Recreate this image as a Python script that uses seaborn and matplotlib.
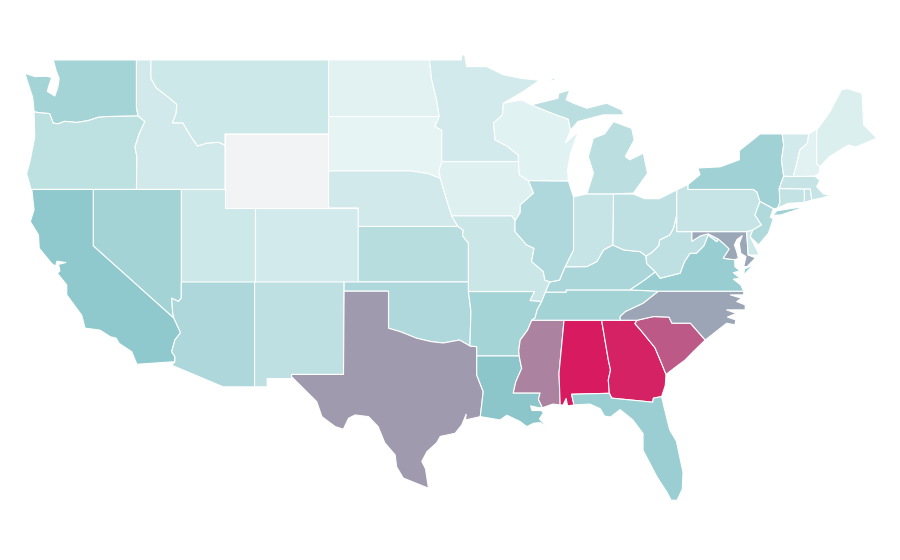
import matplotlib
matplotlib.use("Agg")
import matplotlib.pyplot as plt
import seaborn as sns

# Choropleth index per state (0 = palest, 50 = teal, 100 = crimson); Wyoming has no value
STATE_VALUES = {
    "WA": 36, "OR": 23, "CA": 48, "NV": 37, "ID": 12, "MT": 14, "WY": None, "UT": 14, "CO": 11,
    "AZ": 32, "NM": 22, "ND": 2, "SD": 0, "NE": 12, "KS": 26, "OK": 31, "TX": 63, "MN": 11,
    "IA": 4, "MO": 16, "AR": 36, "LA": 50, "WI": 3, "IL": 31, "IN": 18, "OH": 22, "MI": 24,
    "KY": 33, "TN": 37, "MS": 70, "AL": 100, "GA": 98, "SC": 82, "NC": 60, "VA": 43, "WV": 22,
    "MD": 59, "DE": 14, "PA": 18, "NY": 39, "NJ": 30, "CT": 20, "RI": 20, "MA": 18, "VT": 11,
    "NH": 2, "ME": 6, "FL": 42,
}
SCALE_COLORS = ["#e6f4f4", "#8cc7cb", "#d81b60"]
NO_DATA_COLOR = "#f2f3f5"

# Shared borders, as (lon, lat)
COLUMBIA = [(-117.03, 46.42), (-116.92, 45.97), (-118.97, 45.94), (-119.6, 45.9), (-120.3, 45.72), (-121.07, 45.62),
            (-121.9, 45.68), (-122.3, 45.55), (-122.65, 45.58), (-122.9, 46.1), (-123.65, 46.15), (-123.95, 46.2)]
SNAKE = [(-117.03, 42), (-117.0, 43.77), (-117.13, 44.3), (-116.85, 45.0), (-116.46, 45.67), (-116.92, 45.97)]
ID_MT = [(-116.05, 49), (-116.05, 48), (-115.7, 47.5), (-114.9, 47.0), (-114.3, 46.6), (-114.35, 46.1), (-114.6, 45.6),
         (-113.9, 45.6), (-113.3, 44.8), (-112.9, 44.35), (-112.3, 44.5), (-111.5, 44.55), (-111.05, 44.4)]
COLORADO_R = [(-114, 36.12), (-114.2, 35.95), (-114.65, 36.12), (-114.58, 35.3), (-114.5, 35.04), (-114.05, 34.26),
              (-114.43, 33.86), (-114.65, 33.23), (-114.43, 32.96), (-114.43, 32.69)]
RED_RIVER_N = [(-97.23, 49), (-97.1, 48), (-96.75, 46.84), (-96.57, 45.94), (-96.86, 45.4), (-96.4, 45.2), (-96.4, 43.5)]
BIG_SIOUX = [(-96.4, 43.5), (-96.6, 43.0), (-96.5, 42.6)]
MISSOURI_R = [(-96.5, 42.6), (-96.07, 41.43), (-95.73, 40.57)]
KS_MO = [(-95.31, 40), (-94.95, 39.8), (-95.0, 39.5), (-94.6, 39.1), (-94.6, 37)]
RED_RIVER_S = [(-100, 34.5), (-99.2, 34.31), (-98.1, 33.96), (-97.1, 33.77), (-96.3, 33.7), (-95.2, 33.86), (-94.5, 33.54)]
MN_WI = [(-92.24, 46.66), (-92.3, 46.03), (-92.9, 45.58), (-92.8, 44.68), (-92.0, 44.35), (-91.23, 43.86), (-91.22, 43.5)]
IA_WI = [(-91.22, 43.5), (-91.16, 42.78), (-90.55, 42.48)]
IA_IL = [(-90.55, 42.48), (-90.2, 41.8), (-91.1, 41.16), (-91.1, 40.75), (-91.45, 40.3)]
MO_IL = [(-91.45, 40.3), (-91.45, 39.72), (-90.66, 39), (-90.17, 38.82), (-90.33, 38.1), (-89.54, 37.56), (-89.43, 37.1), (-89.1, 37)]
AR_TN = [(-89.65, 35.94), (-89.95, 35.5), (-90.1, 35.05), (-90.32, 34.93)]
AR_MS = [(-90.32, 34.93), (-90.6, 34.4), (-91.1, 33.86), (-91.2, 33.3), (-91.17, 33)]
LA_MS = [(-91.17, 33), (-91.05, 32.5), (-91.0, 32.33), (-91.4, 31.6), (-91.57, 31), (-89.76, 31), (-89.87, 30.65), (-89.6, 30.2)]
OH_WV = [(-80.52, 40.64), (-80.75, 39.9), (-81, 39.54), (-81.68, 39.27), (-81.75, 38.95), (-82.2, 38.6), (-82.6, 38.4)]
OH_KY = [(-82.6, 38.4), (-83, 38.64), (-84.1, 38.73), (-84.85, 39.0)]
IN_KY = [(-84.85, 39.0), (-85.47, 38.73), (-85.93, 38.1), (-86.6, 37.83), (-88.07, 37.82)]
IL_KY = [(-88.07, 37.82), (-88.45, 37.1), (-89.1, 37)]
WABASH = [(-88.07, 37.82), (-87.5, 38.73), (-87.5, 41.6)]
KY_WV = [(-82.6, 38.4), (-82.56, 38.0), (-81.97, 37.54)]
VA_WV = [(-81.97, 37.54), (-81.65, 37.2), (-80.9, 37.35), (-80.3, 37.47), (-80.0, 38.1), (-79.63, 38.55), (-79.2, 38.55),
         (-78.7, 38.95), (-78.4, 39.54), (-77.82, 39.18), (-77.72, 39.32)]
MD_WV = [(-77.72, 39.32), (-78.4, 39.6), (-78.9, 39.5), (-79.5, 39.2), (-79.5, 39.72)]
MD_VA = [(-77.72, 39.32), (-77.26, 39), (-76.98, 38.78), (-77.38, 38.28), (-76.6, 38.2)]
AL_GA = [(-85.6, 34.93), (-85.15, 32.8), (-85, 32.24), (-85.15, 31.7), (-85.08, 30.98)]
SAVANNAH = [(-83.2, 34.93), (-83.35, 34.75), (-82.97, 34.4), (-82.0, 33.45), (-81.55, 32.6), (-81.25, 32.0)]
NC_SC = [(-83.2, 34.93), (-82.1, 35.13), (-81.05, 35.1), (-80.85, 34.77), (-79.6, 34.77), (-78.6, 33.86)]
NC_TN = [(-84.36, 34.93), (-84.36, 35.13), (-84, 35.4), (-82.8, 35.85), (-81.77, 36.5)]
PA_NJ = [(-74.9, 41.35), (-75.24, 40.62), (-74.8, 40.08), (-75.4, 39.8)]
PA_NY = [(-75.35, 42), (-75.1, 41.85), (-74.9, 41.35)]
VT_NH = [(-71.6, 45), (-71.7, 44.5), (-72.2, 44.14), (-72.45, 43.3), (-72.65, 42.7)]
VT_NY = [(-73.4, 45), (-73.3, 44.4), (-73.45, 43.6), (-73.3, 42.72)]
MI_WI = [(-90.35, 46.57), (-88.9, 46.1), (-87.85, 45.8), (-87.7, 45.2)]


def rev(seg):
    return seg[::-1]


SHAPES = {
    "WA": [[(-124.57, 48.28), (-123.9, 48.1), (-123.1, 48.12), (-122.75, 48.05), (-122.95, 47.6), (-123.05, 47.3), (-122.55, 47.05),
            (-122.35, 47.5), (-122.25, 48.0), (-122.45, 48.4), (-122.65, 49), (-117.03, 49)] + COLUMBIA +
           [(-124.0, 46.7), (-124.05, 47.0), (-124.3, 47.6)]],
    "OR": [[(-123.95, 46.2), (-123.9, 44.85), (-124.2, 43.6), (-124.45, 42.85), (-124.15, 42)] + SNAKE + COLUMBIA[2:]],
    "ID": [[(-117.03, 49)] + ID_MT + [(-111.05, 42)] + SNAKE + [(-117.03, 46.42)]],
    "MT": [ID_MT + [(-111.05, 45), (-104.05, 45), (-104.05, 49)]],
    "WY": [[(-111.05, 45), (-104.05, 45), (-104.05, 41), (-111.05, 41)]],
    "UT": [[(-114, 42), (-111.05, 42), (-111.05, 41), (-109.05, 41), (-109.05, 37), (-114, 37)]],
    "NV": [[(-119.95, 42), (-114, 42), (-114, 37)] + COLORADO_R[:5] + [(-119.95, 38.95)]],
    "CA": [[(-124.1, 42), (-119.95, 42), (-119.95, 38.95)] + COLORADO_R[4:] +
           [(-117.0, 32.55), (-117.35, 33.23), (-118.2, 33.68), (-118.4, 33.96), (-118.8, 34.04), (-119.5, 34.4), (-120.5, 34.5),
            (-120.73, 35.2), (-121.74, 36.3), (-121.74, 36.84), (-122.38, 37.47), (-122.2, 37.6), (-122.3, 37.95), (-121.8, 38.05),
            (-122.4, 38.12), (-122.5, 37.85), (-122.76, 38.0), (-123.6, 38.82), (-123.65, 39.54), (-124.2, 40.26), (-123.95, 40.9)]],
    "AZ": [[(-114, 37), (-109.05, 37), (-109.05, 31.33), (-111.17, 31.33), (-114.65, 32.5)] + rev(COLORADO_R)],
    "CO": [[(-109.05, 41), (-102.05, 41), (-102.05, 37), (-109.05, 37)]],
    "NM": [[(-109.05, 37), (-103, 37), (-103.04, 32), (-106.55, 32), (-106.53, 31.78), (-108.2, 31.78), (-108.2, 31.33), (-109.05, 31.33)]],
    "ND": [[(-104.05, 49)] + RED_RIVER_N[:4] + [(-104.05, 45.94)]],
    "SD": [[(-104.05, 45.94)] + RED_RIVER_N[3:] + BIG_SIOUX[1:] + [(-97.3, 42.85), (-98.5, 43), (-104.05, 43)]],
    "NE": [[(-104.05, 43), (-98.5, 43), (-97.3, 42.85)] + MISSOURI_R + KS_MO[:1] + [(-102.05, 40), (-102.05, 41), (-104.05, 41)]],
    "KS": [[(-102.05, 40)] + KS_MO + [(-102.05, 37)]],
    "OK": [[(-103, 37), (-94.6, 37), (-94.6, 36.48), (-94.43, 35.4)] + rev(RED_RIVER_S) + [(-100, 36.5), (-103, 36.5)]],
    "TX": [[(-103, 36.5), (-100, 36.5)] + RED_RIVER_S +
           [(-94.04, 33.5), (-94.04, 33), (-94.04, 31.97), (-93.6, 31.07), (-93.8, 29.72), (-94.8, 29.54), (-94.75, 29.85), (-95.05, 29.27),
            (-95.5, 28.82), (-96.5, 28.65), (-96.75, 28.3), (-97.4, 27.83), (-97.75, 27.3), (-97.5, 26.9), (-97.3, 25.85), (-99.0, 26.4),
            (-99.45, 27.0), (-99.55, 27.65), (-100.25, 28.3), (-100.7, 29.18), (-101.35, 29.72), (-102.26, 29.81), (-102.7, 29.63),
            (-103.05, 29.04), (-103.6, 29.18), (-104.5, 29.72), (-104.85, 30.53), (-105.87, 31.34), (-106.55, 31.88), (-106.55, 32), (-103.04, 32)]],
    "MN": [[(-97.23, 49), (-95.07, 49), (-95.07, 49.27), (-94.85, 49.27), (-94.72, 48.64), (-93.37, 48.64), (-92.24, 48.2), (-91, 48),
            (-89.8, 47.9), (-90.9, 47.29)] + MN_WI + rev(RED_RIVER_N)],
    "IA": [[(-96.4, 43.5)] + IA_WI + IA_IL[1:] + [(-91.67, 40.57)] + rev(MISSOURI_R) + [(-96.6, 43.0)]],
    "MO": [[(-95.73, 40.57), (-91.67, 40.57)] + MO_IL + [(-89.4, 36.45), (-89.65, 35.94), (-90.44, 35.99), (-90.15, 36.48), (-94.6, 36.48)] + rev(KS_MO)],
    "AR": [[(-94.6, 36.48), (-90.15, 36.48), (-90.44, 35.99)] + AR_TN + AR_MS[1:] + [(-94.04, 33), (-94.04, 33.5), (-94.5, 33.54), (-94.43, 35.4)]],
    "LA": [[(-94.04, 33)] + LA_MS + [(-89.85, 30.2), (-90.4, 30.3), (-90.3, 30.05), (-89.65, 30.05), (-89.55, 29.9), (-89.8, 29.6), (-89.2, 29.1),
            (-89.75, 29.4), (-90.2, 29.36), (-90.66, 29.18), (-91.1, 29.45), (-92.0, 29.8), (-92.46, 29.54), (-93.8, 29.72), (-93.6, 31.07), (-94.04, 31.97)]],
    "MS": [AR_MS + LA_MS[1:] + [(-88.9, 30.4), (-88.4, 30.35), (-88.48, 32.06), (-88.14, 34.93)]],
    "AL": [[(-88.14, 34.93)] + AL_GA + [(-87.63, 30.93), (-87.47, 30.35), (-87.9, 30.3), (-88, 30.7), (-88.2, 30.35), (-88.4, 30.35), (-88.48, 32.06)]],
    "GA": [AL_GA + [(-84.92, 30.72), (-82.15, 30.5), (-82.1, 30.72), (-81.55, 30.8), (-81.3, 31.4)] + rev(SAVANNAH)],
    "FL": [[(-87.63, 30.93), (-85.08, 30.98), (-84.92, 30.72), (-82.15, 30.5), (-82.1, 30.72), (-81.55, 30.8), (-81.25, 29.8), (-81, 29), (-80.55, 28.4),
            (-80.1, 26.7), (-80.15, 25.8), (-80.5, 25.2), (-80.9, 25.2), (-81.2, 25.65), (-81.85, 26.45), (-82.8, 27.9), (-82.8, 28.8), (-83.5, 29.55),
            (-84.35, 30.1), (-85, 29.7), (-85.4, 29.75), (-85.7, 30.15), (-86.4, 30.4), (-87.47, 30.35)]],
    "SC": [NC_SC + [(-79.4, 33.24), (-79.96, 32.78), (-80.6, 32.4)] + rev(SAVANNAH)[:-1]],
    "NC": [[(-84.36, 34.93)] + NC_SC + [(-77.15, 34.77), (-76.6, 34.68), (-76.53, 34.95), (-77.1, 35.1), (-76.5, 35.3), (-77.15, 35.49), (-75.9, 35.49),
            (-75.9, 35.76), (-76.47, 35.94), (-76.14, 36.12), (-76.9, 36.3), (-76.0, 36.3), (-76.0, 36.5)] + rev(NC_TN)[:-1]],
    "TN": [[(-90.32, 34.93), (-88.14, 34.93), (-85.6, 34.93)] + NC_TN + [(-83.68, 36.57), (-88, 36.57), (-88, 36.45), (-89.4, 36.45)] + AR_TN[:3]],
    "KY": [[(-89.4, 36.45), (-88, 36.45), (-88, 36.57), (-83.68, 36.57), (-82.7, 37.1)] + rev(KY_WV) + OH_KY[1:] + IN_KY[1:] + IL_KY[1:]],
    "VA": [[(-83.68, 36.57), (-81.77, 36.5), (-76.0, 36.5), (-76.2, 36.84), (-76.7, 37.15), (-76.25, 37.2), (-76.7, 37.5), (-76.25, 37.6), (-76.6, 37.83)] +
           rev(MD_VA) + rev(VA_WV)[1:] + [(-82.7, 37.1)],
           [(-75.6, 37.83), (-75.25, 38.0), (-76, 37.38), (-75.95, 37.7)]],
    "WV": [[(-80.52, 40.64), (-80.52, 39.72)] + rev(MD_WV) + rev(VA_WV)[1:] + [(-82.56, 38.0)] + rev(OH_WV)[:-1]],
    "MD": [[(-79.5, 39.72), (-75.8, 39.72), (-75.7, 38.46), (-75.2, 38.3), (-75.77, 37.83), (-76, 37.83), (-75.85, 38.37), (-76.2, 38.55), (-76.3, 39.08),
            (-76.1, 39.5), (-76.45, 39.3), (-76.63, 39.0), (-76.47, 38.64), (-76.36, 38.28)] + rev(MD_VA) + MD_WV[1:]],
    "OH": [[(-84.8, 41.76), (-83.45, 41.75), (-82.7, 41.5), (-81.7, 41.5), (-80.52, 41.98)] + OH_WV + OH_KY[1:]],
    "IN": [[(-87.5, 41.6), (-86.6, 41.76), (-84.8, 41.76)] + IN_KY + WABASH[1:2]],
    "IL": [[(-90.55, 42.48), (-87.85, 42.46), (-87.6, 41.85)] + rev(WABASH) + IL_KY[1:] + rev(MO_IL)[1:] + rev(IA_IL)[1:-1]],
    "WI": [[(-92.24, 46.66), (-91, 46.84)] + MI_WI + [(-88.04, 44.53), (-87.17, 45.13), (-87.7, 43.96), (-87.9, 43.05), (-87.85, 42.46)] +
           rev(IA_WI) + rev(MN_WI)[1:-1]],
    "MI": [MI_WI + [(-87.2, 45.67), (-85.5, 46.03), (-84.1, 46.03), (-84.25, 46.3), (-85.26, 46.66), (-86.6, 46.39), (-87.5, 46.66), (-88.0, 46.85),
            (-87.75, 47.38), (-88.5, 47.2), (-88.55, 46.93)],
           [(-86.6, 41.76), (-84.8, 41.76), (-83.45, 41.8), (-82.5, 42.87), (-82.78, 43.96), (-83.7, 43.6), (-84.0, 43.78), (-83.4, 44.68), (-83.57, 45.3),
            (-84.8, 45.67), (-85.4, 45.0), (-86.16, 44.77), (-86.5, 43.77), (-86.15, 42.88)],
           [(-89.2, 47.9), (-88.7, 48.05), (-88.8, 47.9)]],
    "PA": [[(-80.52, 41.98), (-79.76, 42.27), (-79.76, 42)] + PA_NY + PA_NJ[1:] + [(-75.8, 39.72), (-80.52, 39.72), (-80.52, 40.64)]],
    "NY": [[(-79.76, 42.27), (-78.95, 42.8), (-79.1, 43.16), (-77.6, 43.22), (-76.3, 43.6), (-76.3, 44.1), (-75.2, 44.8), (-74.9, 45)] + VT_NY +
           [(-73.6, 42.05), (-73.55, 41.3), (-73.7, 41.0), (-73.95, 40.95)] + rev(PA_NY) + [(-79.76, 42)],
           [(-74.05, 40.6), (-73.75, 40.85), (-72.3, 41.03), (-72.15, 40.98), (-73.5, 40.62)]],
    "NJ": [[(-74.9, 41.35), (-74.0, 40.95), (-74.2, 40.5), (-74.0, 40.4), (-74.33, 39.63), (-75, 39), (-75.57, 39.45)] + rev(PA_NJ)[:-1]],
    "DE": [[(-75.8, 39.72), (-75.4, 39.8), (-75.57, 39.45), (-75.0, 38.55), (-75.05, 38.45), (-75.7, 38.46)]],
    "CT": [[(-73.6, 42.05), (-71.9, 42.03), (-71.9, 41.3), (-73.0, 41.25), (-73.7, 41.0), (-73.55, 41.3)]],
    "RI": [[(-71.9, 42.03), (-71.5, 42.03), (-71.4, 41.43), (-71.9, 41.3)]],
    "MA": [[(-73.6, 42.05), (-73.3, 42.72), (-72.65, 42.7), (-71.2, 42.72), (-70.85, 42.5), (-71.07, 42.15), (-70.6, 41.75), (-70.1, 41.72),
            (-70.65, 41.55), (-71.4, 41.43), (-71.5, 42.03), (-71.9, 42.03)]],
    "VT": [VT_NY + rev(VT_NH)],
    "NH": [VT_NH + [(-71.2, 42.72), (-70.9, 42.87), (-70.85, 43.23), (-71.07, 43.4), (-71.07, 45.2), (-71.2, 45.2)]],
    "ME": [[(-71.07, 45.2), (-70.17, 46.2), (-69.4, 47.38), (-69.0, 47.45), (-68.0, 47.2), (-67.9, 45.5), (-67.0, 44.77), (-68.4, 44.3), (-68.93, 44.4),
            (-70.2, 43.78), (-70.85, 43.23), (-71.07, 43.4)]],
}

sns.set_theme(style="white")
cmap = sns.blend_palette(SCALE_COLORS, n_colors=256, as_cmap=True)

fig = plt.figure(figsize=(9, 5.6), dpi=100)
ax = fig.add_axes([0, 0, 1, 1])
for state, parts in SHAPES.items():
    value = STATE_VALUES[state]
    color = NO_DATA_COLOR if value is None else cmap(value / 100)
    for part in parts:
        lons, lats = zip(*part)
        ax.fill(lons, lats, facecolor=color, edgecolor="white", linewidth=0.8, joinstyle="round")

ax.set_xlim(-126.25, -65.44)
ax.set_ylim(21.97, 52.24)
ax.axis("off")
fig.savefig("out.png", dpi=100, facecolor="white")
